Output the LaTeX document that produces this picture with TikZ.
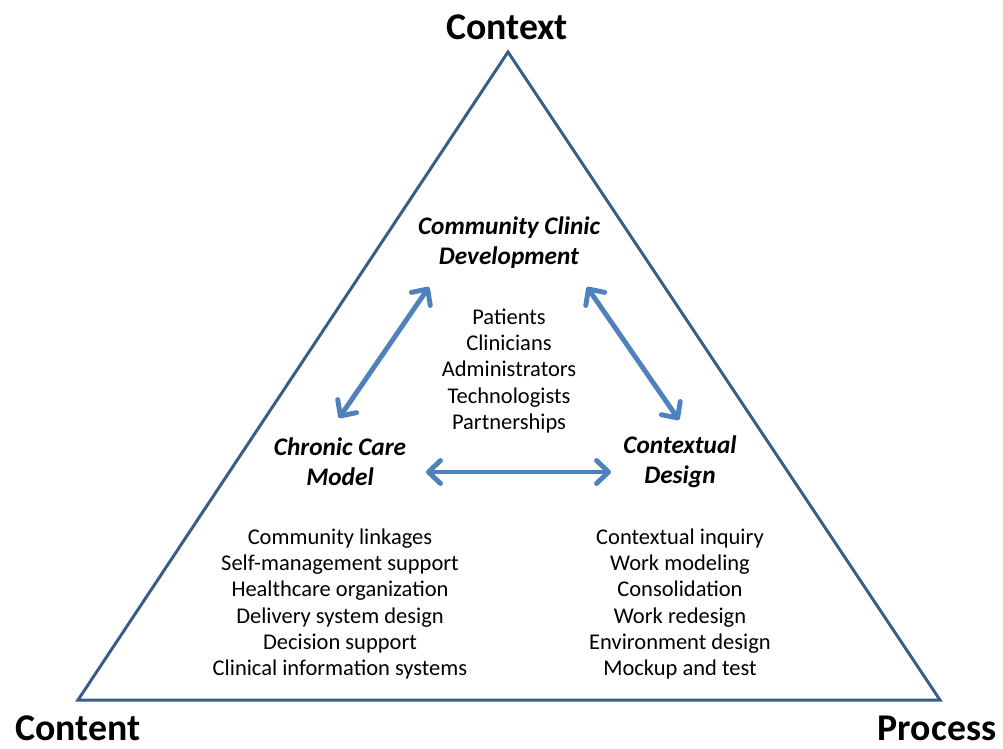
\documentclass[tikz,border=0pt]{standalone}
\usepackage{fontspec}
\setmainfont{Carlito}
\usetikzlibrary{arrows.meta}

\definecolor{edgeblue}{RGB}{56,93,138}
\definecolor{arrowblue}{RGB}{79,129,189}

\begin{document}
\begin{tikzpicture}[x=0.02cm, y=-0.02cm,
   corner/.style={inner sep=0pt, font=\fontsize{21.5}{25}\selectfont\bfseries},
   model/.style={align=center, inner sep=0pt, font=\fontsize{14.4}{17}\selectfont\bfseries\itshape},
   items/.style={align=center, inner sep=0pt, font=\fontsize{12.8}{15}\selectfont},
   link/.style={arrowblue, line width=2.8pt,
     {Straight Barb[round,length=2.4mm,width=4.6mm]}-{Straight Barb[round,length=2.4mm,width=4.6mm]}}]

\useasboundingbox (0,0) rectangle (1003,748);

% outer triangle
\coordinate (top) at (508,52);
\coordinate (left) at (78,700);
\coordinate (right) at (940,700);
\draw[edgeblue, line width=1.7pt, line join=miter] (top) -- (left) -- (right) -- cycle;

\node[corner] (context) at (507,27) {Context};
\node[corner] (content) at (78,728) {Content};
\node[corner] (process) at (937,728) {Process};

% the three models
\node[model] (ccd) at (509,243) {Community Clinic\\Development};
\node[model] (ccm) at (340,462) {Chronic Care\\Model};
\node[model] (cd) at (680,462) {Contextual\\Design};

\node[items] (people) at (509,371) {Patients\\Clinicians\\Administrators\\Technologists\\Partnerships};
\node[items] (ccmlist) at (340,604) {Community linkages\\Self-management support\\Healthcare organization\\Delivery system design\\Decision support\\Clinical information systems};
\node[items] (cdlist) at (680,604) {Contextual inquiry\\Work modeling\\Consolidation\\Work redesign\\Environment design\\Mockup and test};

% double arrows between the models
\coordinate (l1) at (339,418);
\coordinate (l2) at (429,287);
\coordinate (r1) at (587,287);
\coordinate (r2) at (679,420);
\coordinate (h1) at (426,472);
\coordinate (h2) at (611,472);
\draw[link] (l1) -- (l2);
\draw[link] (r1) -- (r2);
\draw[link] (h1) -- (h2);

\end{tikzpicture}
\end{document}
